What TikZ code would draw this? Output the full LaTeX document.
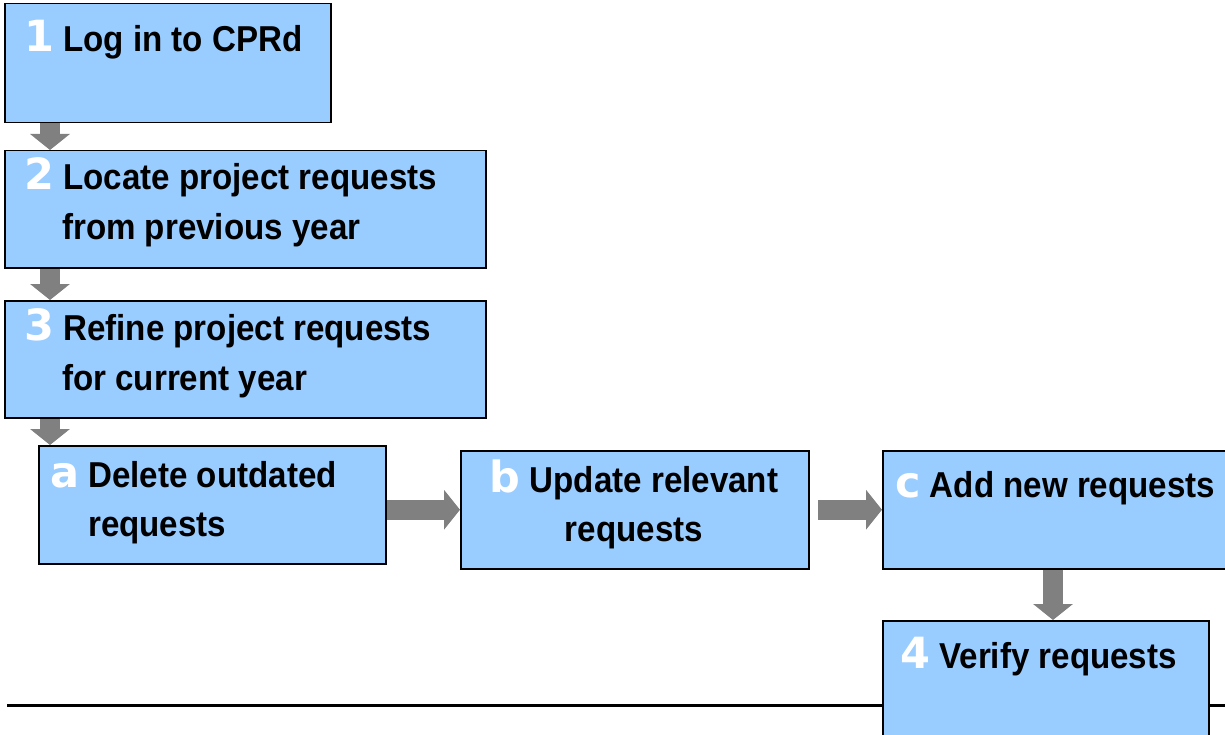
\documentclass[tikz,border=0pt]{standalone}
\usepackage{fontspec}
\setmainfont{Liberation Sans}[FakeStretch=0.92]
\newfontfamily\numfont{DejaVu Sans}
\usepackage{tikz}
\usetikzlibrary{positioning}
\usetikzlibrary{arrows.meta}
\usepackage{xcolor}
\definecolor{boxblue}{HTML}{99CCFF}
\definecolor{arrowgray}{HTML}{808080}
\newcommand{\stepnum}[1]{{\color{white}\numfont\bfseries\fontsize{43}{43}\selectfont #1}}

\tikzset{
  stepbox/.style={draw, line width=1.5pt, fill=boxblue, rectangle, anchor=north west, inner sep=0pt},
  steptext/.style={font=\bfseries\fontsize{36}{36}\selectfont, inner sep=0pt},
  flow/.style={draw=arrowgray, line width=20pt, -{Triangle[width=39pt,length=16pt]}}
}

\begin{document}
\begin{tikzpicture}[x=1pt,y=-1pt]
            \useasboundingbox (0,0) rectangle (1225,735);
            \clip (0,0) rectangle (1225,735);
            % baseline rule behind the last step
            \draw[line width=3pt] (7,705) -- (1225,705);

            % Main steps
            \node[stepbox, minimum width=326pt, minimum height=119pt] (login) at (4,3) {};
            \node[stepbox, minimum width=481pt, minimum height=117pt] (locate) at (4,150) {};
            \node[stepbox, minimum width=481pt, minimum height=117pt] (refine) at (4,300) {};
            \node[stepbox, minimum width=347pt, minimum height=118pt] (delete) at (38,445) {};
            \node[stepbox, minimum width=348pt, minimum height=118pt] (update) at (460,450) {};
            \node[stepbox, minimum width=346pt, minimum height=118pt] (addnew) at (882,450) {};
            \node[stepbox, minimum width=326pt, minimum height=130pt] (verify) at (882,620) {};

            % Step labels
            \node[steptext, anchor=base west] (t1) at (24,52) {\stepnum{1} Log in to CPRd};
            \node[steptext, anchor=base west] (t2a) at (24,190) {\stepnum{2} Locate project requests};
            \node[steptext, anchor=base west] (t2b) at (62,240) {from previous year};
            \node[steptext, anchor=base west] (t3a) at (24,340) {\stepnum{3} Refine project requests};
            \node[steptext, anchor=base west] (t3b) at (62,390) {for current year};
            \node[steptext, anchor=base west] (tab) at (50,487) {\stepnum{a} Delete outdated};
            \node[steptext, anchor=base west] (tac) at (88,536) {requests};
            \node[steptext, anchor=base] (tba) at (634,492) {\stepnum{b} Update relevant};
            \node[steptext, anchor=base] (tbb) at (634,541) {requests};
            \node[steptext, anchor=base west] (tc) at (895,497) {\stepnum{c} Add new requests};
            \node[steptext, anchor=base west] (t4) at (900,668) {\stepnum{4} Verify requests};

            % Connectors
            \coordinate (col) at (50,0);
            \coordinate (bgap) at (818,0);
            \coordinate (col4) at (1053,0);
            \draw[flow] (login.south -| col) -- (locate.north -| col);
            \draw[flow] (locate.south -| col) -- (refine.north -| col);
            \draw[flow] (refine.south -| col) -- (delete.north -| col);
            \draw[flow] (delete.east |- update.west) -- (update.west);
            \draw[flow] (bgap |- update.east) -- (addnew.west);
            \draw[flow] (addnew.south -| col4) -- (verify.north -| col4);
        \end{tikzpicture}
\end{document}
